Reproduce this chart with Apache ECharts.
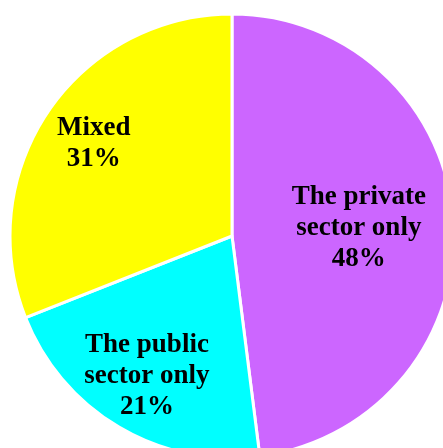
<!DOCTYPE html>
<html>
<head>
<meta charset="utf-8">
<script src="https://cdn.jsdelivr.net/npm/echarts@6/dist/echarts.min.js"></script>
<style>html,body{margin:0;padding:0;background:#fff;}#c{width:443px;height:448px;}</style>
</head>
<body>
<div id="c"></div>
<script>
const categories = ['The private\nsector only', 'The public\nsector only', 'Mixed'];
const values = [48, 21, 31];
const colors = ['#cc66ff', '#00ffff', '#ffff00'];
const labelShift = [[13, -1], [-27, 42], [-44, -28]];

const chart = echarts.init(document.getElementById('c'));
chart.setOption({
  animation: false,
  series: [{
    type: 'pie',
    center: [232, 236],
    radius: 222,
    startAngle: 90,
    clockwise: true,
    data: categories.map((n, i) => ({ name: n, value: values[i], itemStyle: { color: colors[i] } })),
    itemStyle: { borderColor: '#ffffff', borderWidth: 3 },
    label: {
      position: 'inside',
      formatter: p => p.name + '\n' + p.value + '%',
      fontFamily: '"Liberation Serif", "Times New Roman", serif',
      fontWeight: 'bold',
      fontSize: 27,
      lineHeight: 31,
      color: '#000',
      align: 'center'
    },
    labelLayout: p => ({ dx: labelShift[p.dataIndex][0], dy: labelShift[p.dataIndex][1] }),
    emphasis: { disabled: true }
  }]
});
</script>
</body>
</html>
